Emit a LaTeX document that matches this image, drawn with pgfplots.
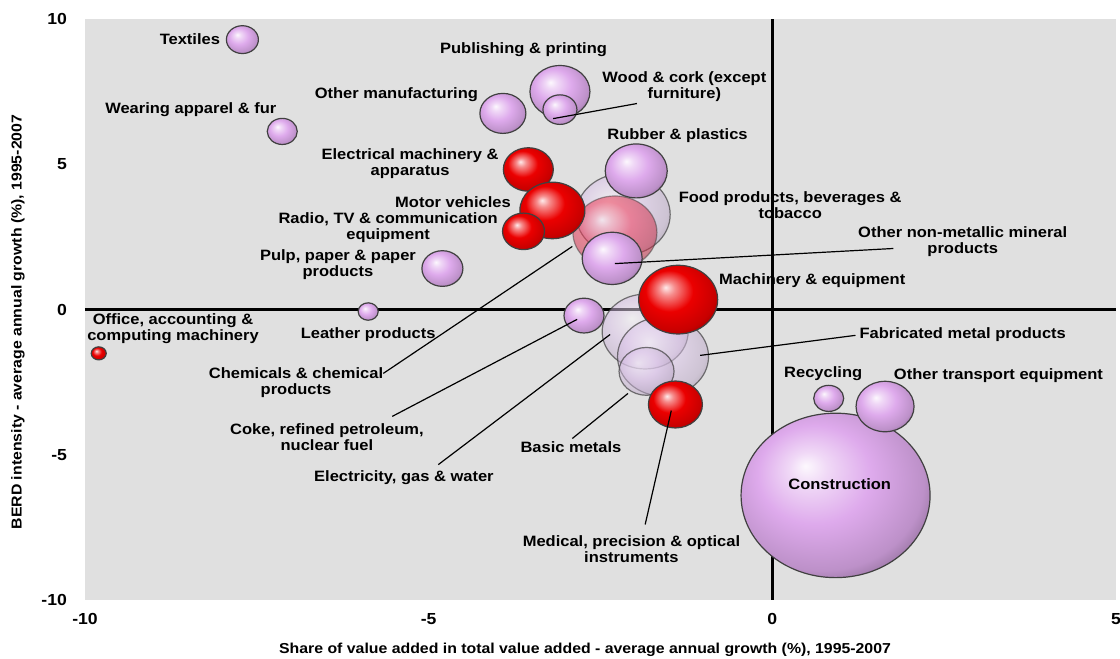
\documentclass[border=0pt]{standalone}
\usepackage{fontspec}
\setmainfont{Liberation Sans}[FakeStretch=1.1]
\usepackage{pgfplots}
\pgfplotsset{compat=1.18}
\usepackage{pgfplotstable}
\usetikzlibrary{calc}

\definecolor{bggray}{RGB}{224,224,224}
\definecolor{bubviolet}{RGB}{222,170,236}
\definecolor{bubred}{RGB}{235,0,0}
\definecolor{bubghost}{RGB}{222,198,236}
\definecolor{bubpink}{RGB}{238,60,90}
\colorlet{bubcol}{bubviolet}

\pgfdeclareradialshading[bubcol]{bub}{\pgfqpoint{-8bp}{9bp}}{%
  color(0bp)=(bubcol!8!white);
  color(5bp)=(bubcol!45!white);
  color(15bp)=(bubcol);
  color(27bp)=(bubcol!85!black);
  color(36bp)=(bubcol!50!black);
  color(50bp)=(bubcol!50!black)}

% shaded, slightly flattened bubble
\pgfdeclareplotmark{bub}{%
  \pgfpathellipse{\pgfpointorigin}{\pgfqpoint{\pgfplotmarksize}{0pt}}{\pgfqpoint{0pt}{0.87\pgfplotmarksize}}%
  \pgfshadepath{bub}{0}%
  \pgfpathellipse{\pgfpointorigin}{\pgfqpoint{\pgfplotmarksize}{0pt}}{\pgfqpoint{0pt}{0.87\pgfplotmarksize}}%
  \pgfusepathqstroke
}

\newcommand\lb{\fontsize{7.5}{8}\selectfont\bfseries}
\tikzset{lbl/.style={font=\lb, align=center, inner sep=0pt}}

\pgfplotsset{
  bubble/.style 2 args={
    scatter, only marks, mark=bub, point meta=y,
    visualization depends on={0.5*\thisrow{r} \as \rad},
    scatter/use mapped color={draw=black!75},
    scatter/@pre marker code/.append style={/tikz/mark size=\rad},
    mark options={/utils/exec={\colorlet{bubcol}{#1}}, line width=0.6pt, #2},
  },
}

% x y r(px)
\pgfplotstableread{
x y r
-2.17 3.27 47
-1.85 -0.76 43
-1.59 -1.62 45.5
-1.83 -2.13 27.5
}\ghostdata
\pgfplotstableread{
x y r
-2.29 2.65 42
}\pinkdata
\pgfplotstableread{
x y r
0.92 -6.40 94.5
-7.71 9.29 16
-7.13 6.13 15
-3.92 6.75 23
-3.09 7.50 30
-3.09 6.88 17
-1.98 4.77 31
-2.33 1.76 30
-4.80 1.41 20.5
-5.88 -0.07 10
-2.74 -0.21 20
0.82 -3.06 15
1.64 -3.34 29
}\violetdata
\pgfplotstableread{
x y r
-3.55 4.82 25
-3.20 3.41 32.5
-3.62 2.69 21
-1.37 0.34 39.5
-9.80 -1.51 7.5
-1.41 -3.27 27
}\reddata

\begin{document}
\begin{tikzpicture}
\begin{axis}[
  scale only axis, width=515.5pt, height=290.5pt,
  xmin=-10, xmax=5, ymin=-10, ymax=10,
  axis background/.style={fill=bggray},
  axis line style={draw=none},
  major tick length=0pt,
  xtick={-10,-5,0,5}, xticklabels={-10,-5,0,5},
  ytick={-10,-5,0,5,10}, yticklabels={-10,-5,0,5,10},
  tick label style={font=\fontsize{8}{9}\selectfont\bfseries},
  xticklabel style={yshift=-3pt},
  yticklabel style={xshift=-5.5pt},
  xlabel={Share of value added in total value added - average annual growth (\%), 1995-2007},
  ylabel={BERD intensity - average annual growth (\%), 1995-2007},
  label style={font=\fontsize{7.2}{8}\selectfont\bfseries},
  xlabel style={at={(axis description cs:0.485,-0.086)}, anchor=center},
  ylabel style={at={(axis description cs:-0.065,0.4785)}, anchor=center},
  clip=false, clip marker paths=true,
]
% zero lines
\addplot[black, line width=1.5pt] coordinates {(0,-10) (0,10)};
\addplot[black, line width=1.5pt] coordinates {(-10,0) (5,0)};

% bubbles
\addplot[bubble={bubghost}{fill opacity=0.5, draw opacity=0.7}] table {\ghostdata};
\addplot[bubble={bubpink}{fill opacity=0.55, draw opacity=0.5}] table {\pinkdata};
\addplot[bubble={bubviolet}{}] table {\violetdata};
\addplot[bubble={bubred}{}] table {\reddata};

% leader lines
\addplot[black, line width=0.6pt] coordinates {(-3.19,6.57) (-1.97,7.09)};
\addplot[black, line width=0.6pt] coordinates {(-2.29,1.58) (1.76,2.10)};
\addplot[black, line width=0.6pt] coordinates {(-5.66,-2.20) (-2.91,2.17)};
\addplot[black, line width=0.6pt] coordinates {(-5.53,-3.68) (-2.84,-0.34)};
\addplot[black, line width=0.6pt] coordinates {(-4.86,-5.34) (-2.36,-0.86)};
\addplot[black, line width=0.6pt] coordinates {(-2.91,-4.44) (-2.10,-2.89)};
\addplot[black, line width=0.6pt] coordinates {(-1.85,-7.40) (-1.47,-3.48)};
\addplot[black, line width=0.6pt] coordinates {(-1.05,-1.58) (1.21,-0.89)};

% labels
\node[lbl, anchor=east] at (axis cs:-8.03,9.29) {Textiles};
\node[lbl] at (axis cs:-8.46,6.88) {Wearing apparel \& fur};
\node[lbl] at (axis cs:-3.62,8.95) {Publishing \& printing};
\node[lbl] at (axis cs:-5.47,7.40) {Other manufacturing};
\node[lbl] at (axis cs:-1.28,7.66) {Wood \& cork (except\\furniture)};
\node[lbl] at (axis cs:-1.38,5.99) {Rubber \& plastics};
\node[lbl] at (axis cs:-5.27,5.03) {Electrical machinery \&\\apparatus};
\node[lbl, anchor=east] at (axis cs:-3.80,3.68) {Motor vehicles};
\node[lbl] at (axis cs:-5.59,2.82) {Radio, TV \& communication\\equipment};
\node[lbl] at (axis cs:-6.32,1.55) {Pulp, paper \& paper\\products};
\node[lbl] at (axis cs:0.26,3.58) {Food products, beverages \&\\tobacco};
\node[lbl] at (axis cs:2.77,2.34) {Other non-metallic mineral\\products};
\node[lbl] at (axis cs:0.58,1.00) {Machinery \& equipment};
\node[lbl] at (axis cs:-8.72,-0.65) {Office, accounting \&\\computing machinery};
\node[lbl] at (axis cs:-5.88,-0.86) {Leather products};
\node[lbl] at (axis cs:-6.93,-2.51) {Chemicals \& chemical\\products};
\node[lbl] at (axis cs:-6.48,-4.41) {Coke, refined petroleum,\\nuclear fuel};
\node[lbl] at (axis cs:-5.36,-5.78) {Electricity, gas \& water};
\node[lbl] at (axis cs:-2.93,-4.75) {Basic metals};
\node[lbl] at (axis cs:-2.05,-8.26) {Medical, precision \& optical\\instruments};
\node[lbl] at (axis cs:2.77,-0.86) {Fabricated metal products};
\node[lbl] at (axis cs:0.74,-2.20) {Recycling};
\node[lbl] at (axis cs:3.29,-2.27) {Other transport equipment};
\node[lbl] at (axis cs:0.98,-6.02) {Construction};
\end{axis}
\pgfresetboundingbox
\path[use as bounding box] ($(current axis.south west)+(-42.5pt,-29.5pt)$) rectangle ($(current axis.north east)+(2pt,9.5pt)$);
\end{tikzpicture}
\end{document}
